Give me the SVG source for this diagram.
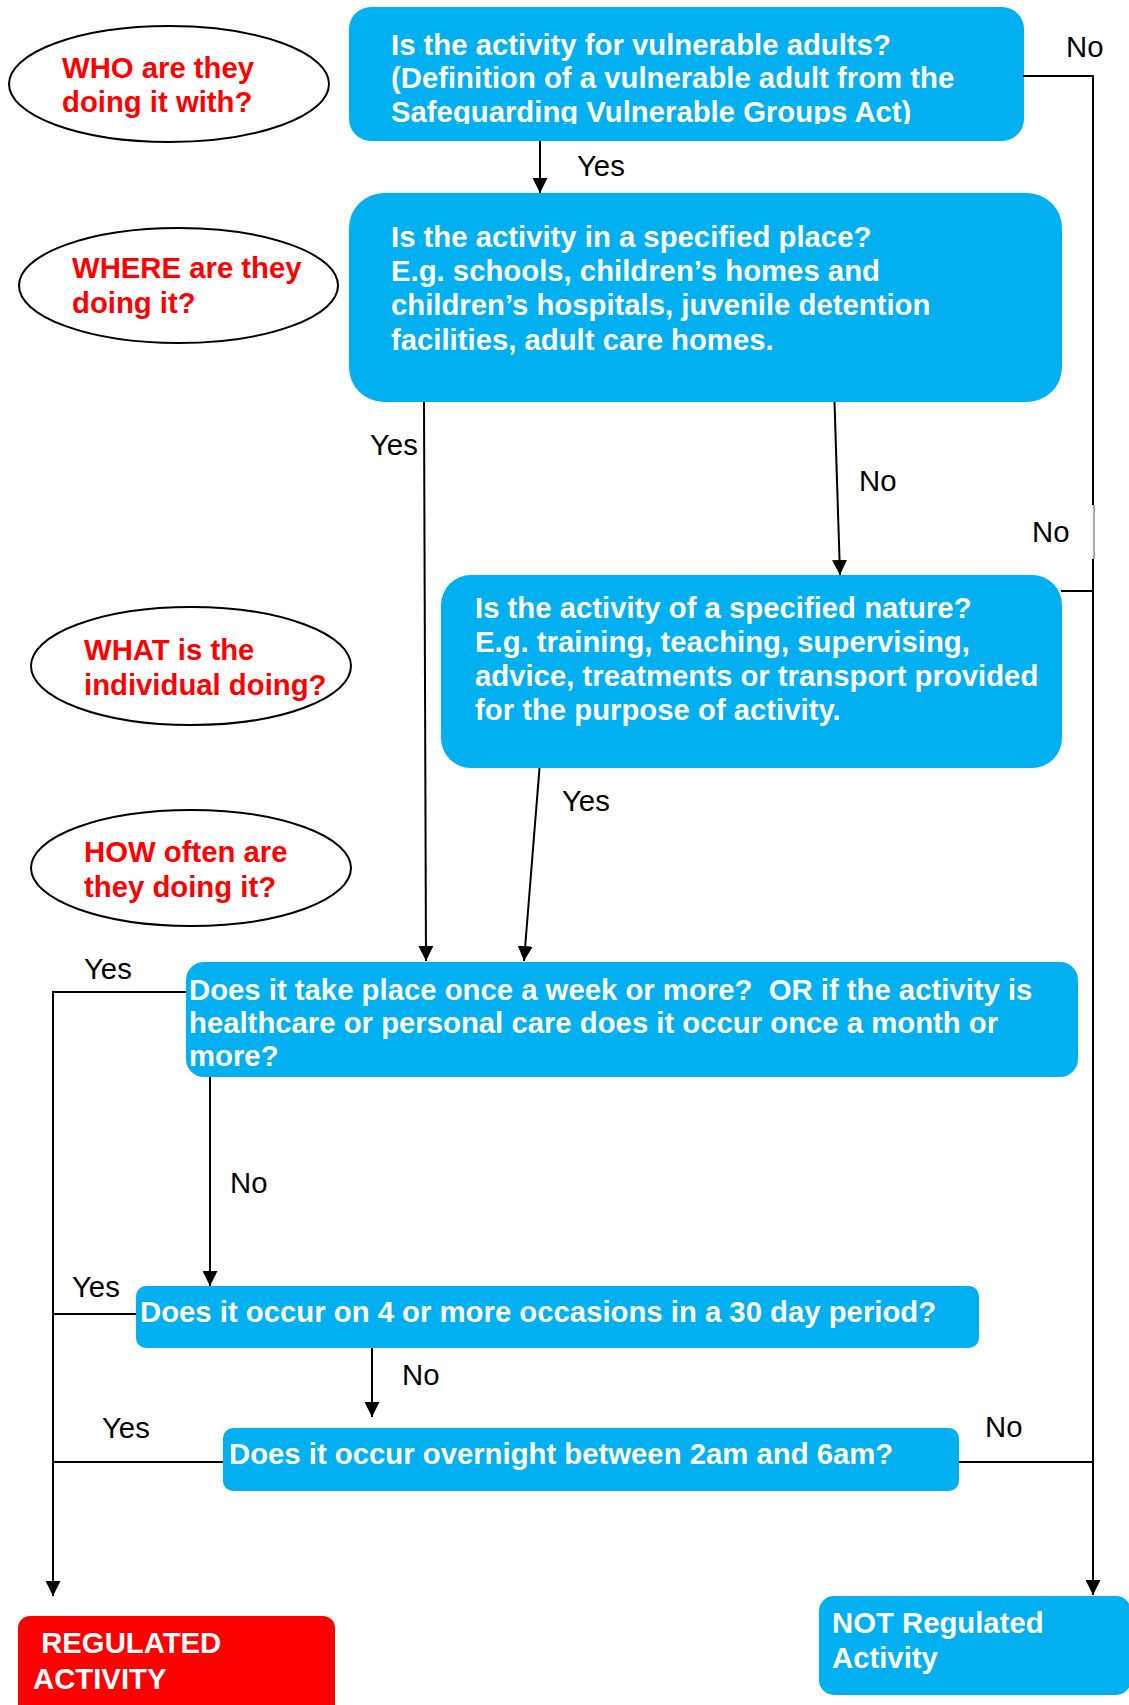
<svg xmlns="http://www.w3.org/2000/svg" width="1129" height="1705" viewBox="0 0 1129 1705">
<style>
text{font-family:"Liberation Sans",Arial,sans-serif;font-size:29.3px;white-space:pre}
.bt{fill:#FFFFFF;font-weight:bold}
.rt{fill:#FF0000;font-weight:bold}
.lb{fill:#000000}
.box{fill:#00B0F0}
.red{fill:#FF0000}
.ell{fill:#FFFFFF;stroke:#000000;stroke-width:2}
.ln{fill:none;stroke:#000000;stroke-width:2}
</style>
<defs>
<marker id="ah" viewBox="0 0 15 15" refX="15" refY="7.5" markerWidth="15" markerHeight="15" orient="auto" markerUnits="userSpaceOnUse"><path d="M0,0 L15,7.5 L0,15 z" fill="#000000"/></marker>
<clipPath id="clip1"><rect x="349" y="7" width="675" height="117"/></clipPath>
</defs>
<rect width="1129" height="1705" fill="#FFFFFF"/>

<g id="e-who"><ellipse class="ell" cx="169" cy="84" rx="160" ry="58"/><text class="rt" x="62" y="78">WHO are they</text><text class="rt" x="62" y="112">doing it with?</text></g>
<g id="e-where"><ellipse class="ell" cx="178.5" cy="285.5" rx="159.5" ry="57.5"/><text class="rt" x="72" y="278">WHERE are they</text><text class="rt" x="72" y="313">doing it?</text></g>
<g id="e-what"><ellipse class="ell" cx="191" cy="666" rx="160" ry="59"/><text class="rt" x="84" y="660">WHAT is the</text><text class="rt" x="84" y="695">individual doing?</text></g>
<g id="e-how"><ellipse class="ell" cx="191" cy="868" rx="160" ry="58"/><text class="rt" x="84" y="862">HOW often are</text><text class="rt" x="84" y="897">they doing it?</text></g>

<g id="q1"><rect class="box" x="349" y="7" width="675" height="134" rx="22"/>
<g clip-path="url(#clip1)"><text class="bt" x="391" y="55">Is the activity for vulnerable adults?</text><text class="bt" x="391" y="88">(Definition of a vulnerable adult from the</text><text class="bt" x="391" y="122">Safeguarding Vulnerable Groups Act)</text></g></g>

<g id="q2"><rect class="box" x="349" y="193" width="713" height="209" rx="35"/>
<text class="bt" x="391" y="247">Is the activity in a specified place?</text><text class="bt" x="391" y="281">E.g. schools, children’s homes and</text><text class="bt" x="391" y="315">children’s hospitals, juvenile detention</text><text class="bt" x="391" y="350">facilities, adult care homes.</text></g>

<g id="q3"><rect class="box" x="441" y="575" width="621" height="193" rx="30"/>
<text class="bt" x="475" y="618">Is the activity of a specified nature?</text><text class="bt" x="475" y="652">E.g. training, teaching, supervising,</text><text class="bt" x="475" y="686">advice, treatments or transport provided</text><text class="bt" x="475" y="720">for the purpose of activity.</text></g>

<g id="q4"><rect class="box" x="186" y="962" width="892" height="115" rx="18"/>
<text class="bt" x="189" y="1000">Does it take place once a week or more?  OR if the activity is</text><text class="bt" x="189" y="1033">healthcare or personal care does it occur once a month or</text><text class="bt" x="189" y="1066">more?</text></g>

<g id="q5"><rect class="box" x="136" y="1286" width="843" height="62" rx="10"/>
<text class="bt" x="140" y="1322">Does it occur on 4 or more occasions in a 30 day period?</text></g>

<g id="q6"><rect class="box" x="223" y="1428" width="736" height="63" rx="10"/>
<text class="bt" x="229" y="1464">Does it occur overnight between 2am and 6am?</text></g>

<g id="regulated"><rect class="red" x="18" y="1616" width="317" height="110" rx="12"/>
<text class="bt" x="33" y="1653"> REGULATED</text><text class="bt" x="33" y="1689">ACTIVITY</text></g>

<g id="not-regulated"><rect class="box" x="819" y="1596" width="312" height="99" rx="15"/>
<text class="bt" x="832" y="1633">NOT Regulated</text><text class="bt" x="832" y="1668">Activity</text></g>

<g id="connectors">
<path class="ln" d="M540,141 L540,193" marker-end="url(#ah)"/>
<path class="ln" d="M1023,76 H1093 V505"/>
<path d="M1094,505 V559" fill="none" stroke="#555555" stroke-width="1"/>
<path class="ln" d="M1093,559 V1595" marker-end="url(#ah)"/>
<path class="ln" d="M1061,591 H1093"/>
<path class="ln" d="M959,1462 H1093"/>
<path class="ln" d="M424,402 L426,961" marker-end="url(#ah)"/>
<path class="ln" d="M834.5,402 L840,575" marker-end="url(#ah)"/>
<path class="ln" d="M539.5,768 L524,961" marker-end="url(#ah)"/>
<path class="ln" d="M186,992 H53 V1596" marker-end="url(#ah)"/>
<path class="ln" d="M136,1314 H53"/>
<path class="ln" d="M223,1462 H53"/>
<path class="ln" d="M210,1077 V1286" marker-end="url(#ah)"/>
<path class="ln" d="M372,1348 V1417" marker-end="url(#ah)"/>
<text class="lb" x="577" y="176">Yes</text>
<text class="lb" x="1066" y="57">No</text>
<text class="lb" x="370" y="455">Yes</text>
<text class="lb" x="859" y="491">No</text>
<text class="lb" x="1032" y="542">No</text>
<text class="lb" x="562" y="811">Yes</text>
<text class="lb" x="84" y="979">Yes</text>
<text class="lb" x="230" y="1193">No</text>
<text class="lb" x="72" y="1297">Yes</text>
<text class="lb" x="402" y="1385">No</text>
<text class="lb" x="102" y="1438">Yes</text>
<text class="lb" x="985" y="1437">No</text>
</g>
</svg>
